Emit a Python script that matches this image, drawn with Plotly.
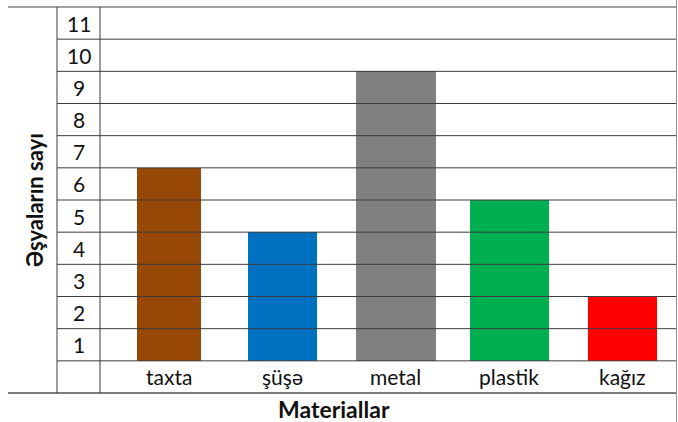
import plotly.graph_objects as go

# ---- data ----
categories = ["taxta", "şüşə", "metal", "plastik", "kağız"]
values = [6, 4, 9, 5, 2]
row_labels = [1, 2, 3, 4, 5, 6, 7, 8, 9, 10, 11]
y_title = "Əşyaların sayı"
x_title = "Materiallar"

# ---- style ----
bar_colors = ["#974706", "#0070C0", "#808080", "#00B050", "#FF0000"]
bar_widths = [0.56, 0.61, 0.71, 0.70, 0.61]
FONT = "Lato"
W, H = 678, 422
ML, MR, MT, MB = 100, 1, 7, 29
PW = W - ML - MR
PH = H - MT - MB
Y0, Y1 = -1, 11
LINE = "#3c3c3c"


def px_x(px):
    return (px - ML) / PW


def py_y(py):
    return (H - MB - py) / PH


def v_y(v):
    return (v - Y0) / (Y1 - Y0)


fig = go.Figure()
fig.add_trace(go.Bar(
    x=categories, y=values, width=bar_widths,
    marker=dict(color=bar_colors, line=dict(width=0)),
    hoverinfo="skip",
))

shapes = []
# horizontal row lines (from the number column to the right edge)
for v in range(0, 11):
    shapes.append(dict(type="line", xref="paper", yref="paper",
                       x0=px_x(57), x1=1, y0=v_y(v), y1=v_y(v),
                       line=dict(color=LINE, width=1), layer="above"))
# top and bottom table lines spanning the title column too
for v, col in ((Y1, "#808080"), (Y0, "#505050")):
    shapes.append(dict(type="line", xref="paper", yref="paper",
                       x0=px_x(8), x1=1, y0=v_y(v), y1=v_y(v),
                       line=dict(color=col, width=1.3), layer="above"))
# vertical column lines
for px in (57, 100):
    shapes.append(dict(type="line", xref="paper", yref="paper",
                       x0=px_x(px), x1=px_x(px), y0=0, y1=1,
                       line=dict(color=LINE, width=1), layer="above"))
# right border
shapes.append(dict(type="line", xref="paper", yref="paper",
                   x0=px_x(676.5), x1=px_x(676.5), y0=py_y(422), y1=py_y(0),
                   line=dict(color="#909090", width=1), layer="above"))

annotations = []
for n in row_labels:
    annotations.append(dict(xref="paper", yref="y", x=px_x(78.5), y=n - 0.5,
                            text=str(n), showarrow=False, xanchor="center",
                            yanchor="middle",
                            font=dict(family=FONT, size=21, color="#111111")))
for c in categories:
    annotations.append(dict(xref="x", yref="y", x=c, y=-0.5, text=c,
                            showarrow=False, xanchor="center", yanchor="middle",
                            font=dict(family=FONT, size=21, color="#111111")))
annotations.append(dict(xref="paper", yref="paper", x=px_x(34), y=0.5,
                        text="<b>" + y_title + "</b>", textangle=-90,
                        showarrow=False, xanchor="center", yanchor="middle",
                        font=dict(family=FONT, size=22, color="#111111")))
annotations.append(dict(xref="paper", yref="paper", x=px_x(334), y=py_y(409),
                        text="<b>" + x_title + "</b>",
                        showarrow=False, xanchor="center", yanchor="middle",
                        font=dict(family=FONT, size=23, color="#111111")))

fig.update_layout(
    width=W, height=H, autosize=False,
    margin=dict(l=ML, r=MR, t=MT, b=MB),
    paper_bgcolor="white", plot_bgcolor="white",
    showlegend=False,
    xaxis=dict(type="category", range=[-0.607, 4.477], showticklabels=False,
               showgrid=False, zeroline=False, showline=False, ticks=""),
    yaxis=dict(range=[Y0, Y1], showticklabels=False, showgrid=False,
               zeroline=False, showline=False, ticks=""),
    shapes=shapes, annotations=annotations, bargap=0,
)

fig.write_html("out.html", config={"displayModeBar": False},
               post_script="document.body.style.margin='0';"
                           "document.body.style.overflow='hidden';")
